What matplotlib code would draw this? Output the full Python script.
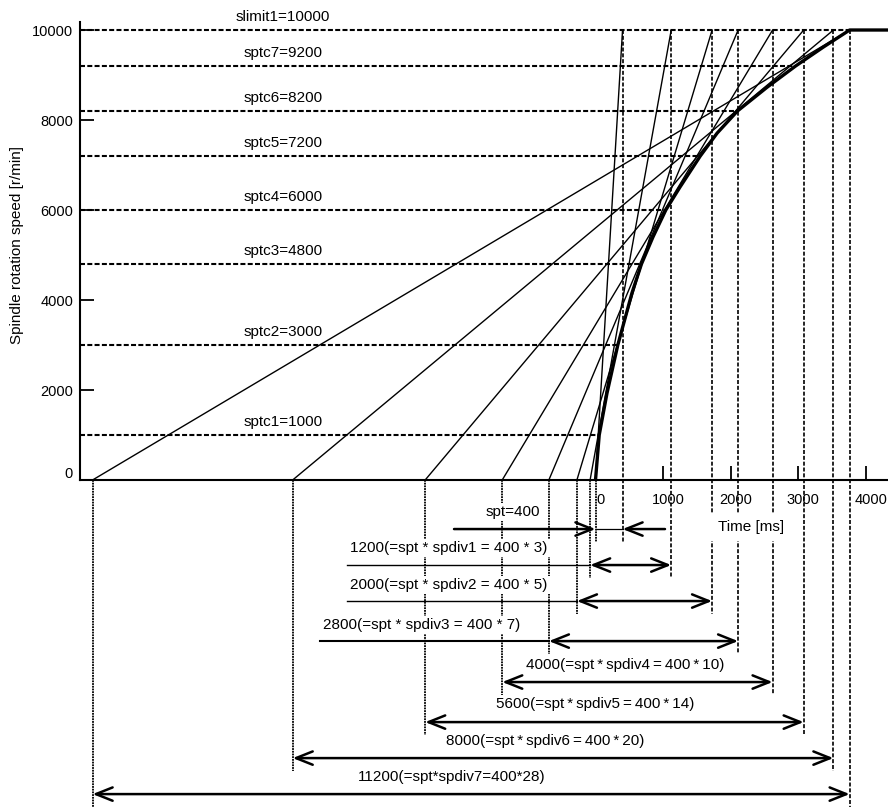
import numpy as np
import matplotlib
matplotlib.use('Agg')
import matplotlib.pyplot as plt
from matplotlib.patches import ArrowStyle
from matplotlib.transforms import ScaledTranslation

plt.rcParams['font.family'] = ['Liberation Sans', 'DejaVu Sans']

# speed levels (r/min)
level_names = ['sptc1', 'sptc2', 'sptc3', 'sptc4', 'sptc5', 'sptc6', 'sptc7', 'slimit1']
levels = [1000, 3000, 4800, 6000, 7200, 8200, 9200, 10000]

# acceleration curve (ms, r/min)
curve_t = [0, 55, 170, 330, 540, 680, 850, 1040, 1250, 1550, 1800, 2100, 2540, 2960, 3370, 3760, 4400]
curve_v = [0, 1000, 1930, 3000, 4160, 4800, 5400, 6000, 6510, 7200, 7710, 8200, 8730, 9200, 9620, 10000, 10000]

# time constant of each segment (ms) and where its line leaves 0 r/min
time_consts = [400, 1200, 2000, 2800, 4000, 5600, 8000, 11200]
line_start = [0, -80, -275, -690, -1380, -2520, -4480, -7440]

dim_labels = [
    'spt=400',
    '1200(=spt * spdiv1 = 400 * 3)',
    '2000(=spt * spdiv2 = 400 * 5)',
    '2800(=spt * spdiv3 = 400 * 7)',
    '4000(=spt\u2009*\u2009spdiv4\u2009=\u2009400\u2009*\u200910)',
    '5600(=spt\u2009*\u2009spdiv5\u2009=\u2009400\u2009*\u200914)',
    '8000(=spt\u2009*\u2009spdiv6\u2009=\u2009400\u2009*\u200920)',
    '11200(=spt*spdiv7=400*28)',
]

x_ticks = [0, 1000, 2000, 3000, 4000]
y_ticks = [0, 2000, 4000, 6000, 8000, 10000]

# layout of the dimension rows under the axis (same units as the axes)
row_v = [-1090, -1890, -2690, -3580, -4490, -5380, -6180, -6980]
label_v = [-711, -1511, -2333, -3222, -4111, -4978, -5800, -6600]
label_x = [-1220, -2167, -2167, -2567, 436, -7, -747, -2123]
leader_start = [None, -3676, -3676, -4075, None, None, None, None]
leader_lw = [0, 1.0, 1.0, 1.5, 0, 0, 0, 0]
spt_left, spt_right = -2093, 1028
level_label_x = -4620

fig = plt.figure(figsize=(8.88, 8.07), dpi=100)
ax = fig.add_axes([80 / 888, 327 / 807, 808 / 888, 458 / 807])
ax.set_xlim(-7626, 4327)
ax.set_ylim(0, 10178)
for s in ['top', 'right']:
    ax.spines[s].set_visible(False)
for s in ['left', 'bottom']:
    ax.spines[s].set_linewidth(1.5)

dash = (0, (2.4, 1.1))
dot = (0, (1, 0.5))
white = dict(boxstyle='square,pad=0.15', facecolor='white', edgecolor='none')

# horizontal speed levels, ending on the curve
level_end = np.interp(levels, curve_v[:-1], curve_t[:-1])
for name, lvl, te in zip(level_names, levels, level_end):
    ax.plot([-7626, te], [lvl, lvl], ls=dash, lw=1.5, color='k')
    ax.annotate(f'{name}={lvl}', xy=(level_label_x, lvl), xytext=(0, 9.4),
                textcoords='offset points', ha='center', va='center', fontsize=11)

# tangent lines for each time constant
for t0, tc in zip(line_start, time_consts):
    ax.plot([t0, t0 + tc], [0, levels[-1]], lw=1.0, color='k')

# the acceleration curve
ax.plot(curve_t, curve_v, lw=2.4, color='k', solid_capstyle='butt', solid_joinstyle='round')

hd = ArrowStyle('<->', head_length=0.6, head_width=0.24)
one = ArrowStyle('->', head_length=0.6, head_width=0.24)
aprops = dict(lw=1.8, color='k', shrinkA=0, shrinkB=0, mutation_scale=20)

for k in range(len(time_consts)):
    t0 = line_start[k]
    t1 = t0 + time_consts[k]
    yv = row_v[k]
    ax.plot([t1, t1], [levels[-1], yv - 280], ls=dash, lw=1.2, color='k', clip_on=False)
    ax.plot([t0, t0], [0, yv - 280], ls=dot, lw=1.3, color='k', clip_on=False)
    if k == 0:
        ax.annotate('', xy=(t0, yv), xytext=(spt_left, yv),
                    arrowprops=dict(arrowstyle=one, **aprops), annotation_clip=False)
        ax.annotate('', xy=(t1, yv), xytext=(spt_right, yv),
                    arrowprops=dict(arrowstyle=one, **aprops), annotation_clip=False)
        ax.plot([t0, t1], [yv, yv], lw=0.9, color='k', clip_on=False)
    else:
        ax.annotate('', xy=(t1, yv), xytext=(t0, yv),
                    arrowprops=dict(arrowstyle=hd, **aprops), annotation_clip=False)
        if leader_start[k] is not None:
            ax.plot([leader_start[k], t0], [yv, yv], lw=leader_lw[k], color='k', clip_on=False)
    ax.text(label_x[k], label_v[k], dim_labels[k], ha='center', va='center', fontsize=11,
            bbox=white)

ax.text(1812, -1044, 'Time [ms]', ha='left', va='center', fontsize=11,
        bbox=dict(boxstyle='square,pad=0.45', facecolor='white', edgecolor='none'))

ax.set_xticks(x_ticks)
ax.set_yticks(y_ticks)
ax.tick_params(direction='in', length=10, width=1.3, labelsize=10.5)
ax.tick_params(axis='y', pad=5)
ax.tick_params(axis='x', pad=9)
ax.set_ylabel('Spindle rotation speed [r/min]', fontsize=11)
ax.yaxis.set_label_coords(-0.069, 0.513)

fig.canvas.draw()
for lab in ax.get_xticklabels():
    lab.set_transform(lab.get_transform() + ScaledTranslation(0.05, 0, fig.dpi_scale_trans))
    lab.set_bbox(dict(boxstyle='square,pad=0.1', facecolor='white', edgecolor='none'))
ylabs = ax.get_yticklabels()
ylabs[0].set_transform(ylabs[0].get_transform() + ScaledTranslation(0, 0.08, fig.dpi_scale_trans))

fig.savefig('out.png', dpi=100)
